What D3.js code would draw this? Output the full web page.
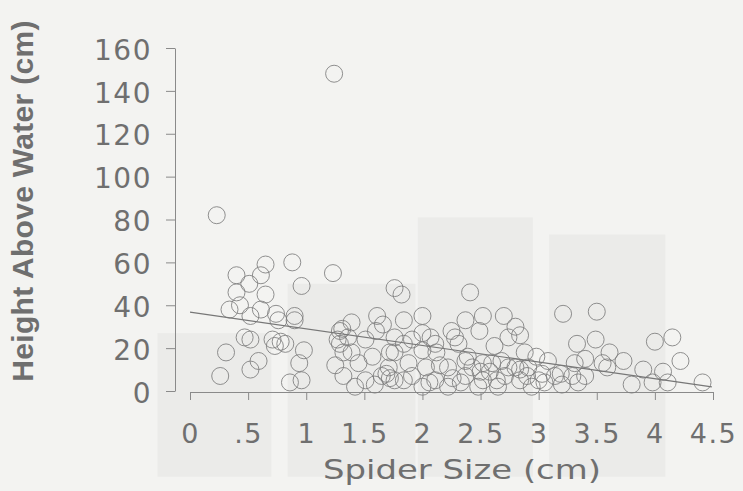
<!DOCTYPE html>
<html>
<head>
<meta charset="utf-8">
<script src="https://cdn.jsdelivr.net/npm/d3@7"></script>
<style>
  html, body { margin: 0; padding: 0; background: #f3f3f1; }
  svg { display: block; }
  text { font-family: "DejaVu Sans", Verdana, sans-serif; fill: #6f6f6f; }
</style>
</head>
<body>
<svg id="chart" width="743" height="491"></svg>
<script>
const width = 743,
height = 491;

// spider size (cm) and height above water (cm)
const sizeCm = [
  .23, .31, .26, .34, .40, .40, .43, .51, .52, .52, .52, .59, .61, .65, .65, .61,
  .74, .71, .78, .73, .88, .90, .90, .94, .86, .96, .98, .82, .47, .76,
  1.24, 1.23, .96, 1.25, 1.29, 1.29, 1.31, 1.32, 1.39, 1.39, 1.45, 1.51, 1.51, 1.57,
  1.61, 1.60, 1.66, 1.69, 1.72, 1.76, 1.82, 1.76, 1.76, 1.84, 1.84, 1.84, 1.88,
  1.91, 1.91, 1.42, 1.59, 1.36, 1.27, 1.65, 1.76, 1.71, 1.32, 1.72,
  2.0, 2.0, 2.0, 2.0, 2.03, 2.06, 2.11, 2.12, 2.11, 2.22, 2.22, 2.25, 2.28, 2.31,
  2.33, 2.37, 2.37, 2.37, 2.41, 2.39, 2.43, 2.48, 2.49, 2.52, 2.52, 2.52, 2.58,
  2.60, 2.62, 2.64, 2.65, 2.68, 2.70, 2.71, 2.74, 2.74, 2.80, 2.80, 2.84, 2.84,
  2.84, 2.88, 2.91, 2.94, 2.98, 3.0, 2.07, 2.15, 2.26, 2.5, 2.9,
  3.03, 3.05, 3.08, 3.14, 3.19, 3.20, 3.21, 3.29, 3.31, 3.33, 3.34, 3.40, 3.40,
  3.49, 3.50, 3.55, 3.59, 3.61, 3.73, 3.80, 3.90, 3.98, 4.0, 4.07, 4.11, 4.15,
  4.22, 4.41
];

const heightCm = [
  82, 18, 7, 38, 54, 46, 40, 50, 35, 24, 10, 14, 54, 59, 45, 38,
  36, 24, 23, 21, 60, 35, 33, 13, 4, 49, 19, 22, 25, 33,
  148, 55, 5, 12, 28, 22, 29, 7, 32, 18, 13, 24, 5, 16,
  35, 28, 31, 8, 18, 48, 45, 25, 5, 33, 22, 5, 13,
  24, 7, 2, 3, 25, 24, 7, 18, 11, 18, 6,
  35, 27, 19, 2, 11, 4, 22, 18, 5, 11, 2, 28, 25, 22,
  4, 33, 14, 7, 46, 16, 11, 2, 28, 35, 13, 5, 9,
  13, 21, 5, 2, 14, 35, 7, 25, 11, 30, 11, 26, 10,
  5, 18, 11, 2, 16, 5, 25, 12, 6, 9, 7,
  8, 4, 14, 7, 8, 3, 36, 7, 13, 22, 4, 15, 7,
  24, 37, 13, 11, 18, 14, 3, 10, 4, 23, 9, 4, 25,
  14, 4
];

// fitted regression line, end points
const fitSize = [0, 4.49],
fitHeight = [36.8, 1.9];

const xTicks = [0, .5, 1, 1.5, 2, 2.5, 3, 3.5, 4, 4.5],
yTicks = [0, 20, 40, 60, 80, 100, 120, 140, 160];

// faint bars showing through from the other side of the page
const ghostLeft = [-0.28, 0.84, 1.96, 3.09],
ghostRight = [0.7, 1.94, 2.95, 4.09],
ghostTop = [27, 50, 81, 73];

let x = d3.scaleLinear().domain([0, 4.5]).range([190, 713]);
let y = d3.scaleLinear().domain([0, 160]).range([391, 48]);

let svg = d3.select("#chart");

svg.append("rect")
  .attr("width", width)
  .attr("height", height)
  .attr("fill", "#f3f3f1");

svg.append("g")
  .selectAll("rect")
  .data(ghostTop)
  .join("rect")
  .attr("x", (d, i) => x(ghostLeft[i]))
  .attr("width", (d, i) => x(ghostRight[i]) - x(ghostLeft[i]))
  .attr("y", d => y(d))
  .attr("height", d => y(-40) - y(d))
  .attr("fill", "#ebebe9");

// y axis, ticks pointing left
let yAxis = svg.append("g")
  .attr("transform", "translate(175,0)")
  .call(d3.axisLeft(y).tickValues(yTicks).tickSize(9).tickSizeOuter(0).tickPadding(14));

yAxis.select(".domain").attr("stroke", "#8a8a8a");
yAxis.selectAll(".tick line").attr("stroke", "#8a8a8a");
yAxis.selectAll(".tick text")
  .attr("font-size", 28)
  .attr("letter-spacing", 1.5)
  .attr("fill", "#6f6f6f")
  .attr("dy", "0.4em");

// x axis, offset below the plot
let xAxis = svg.append("g")
  .attr("transform", "translate(0,392)")
  .call(d3.axisBottom(x).tickValues(xTicks).tickSize(8).tickSizeOuter(0).tickPadding(24)
    .tickFormat(d => d3.format("")(d).replace(/^0\./, ".")));

xAxis.select(".domain").attr("stroke", "#8a8a8a");
xAxis.selectAll(".tick line").attr("stroke", "#8a8a8a");
xAxis.selectAll(".tick text")
  .attr("font-size", 27)
  .attr("letter-spacing", 1.5)
  .attr("fill", "#6f6f6f");

// circles
svg.append("g")
  .selectAll("circle")
  .data(sizeCm)
  .join("circle")
  .attr("cx", d => x(d))
  .attr("cy", (d, i) => y(heightCm[i]))
  .attr("r", 8.5)
  .attr("fill", "none")
  .attr("stroke", "#7d7d7d")
  .attr("stroke-opacity", 0.85)
  .attr("stroke-width", 1);

let line = d3.line()
  .x(d => x(d))
  .y((d, i) => y(fitHeight[i]));

svg.append("path")
  .datum(fitSize)
  .attr("d", line)
  .attr("fill", "none")
  .attr("stroke", "#777")
  .attr("stroke-width", 1.2);

// axis titles
svg.append("text")
  .attr("x", 462)
  .attr("y", 479)
  .attr("text-anchor", "middle")
  .attr("font-size", 27)
  .attr("textLength", 278)
  .attr("lengthAdjust", "spacingAndGlyphs")
  .text("Spider Size (cm)");

svg.append("text")
  .attr("transform", "translate(33,201) rotate(-90)")
  .attr("text-anchor", "middle")
  .style("font-family", "'Liberation Sans', Arial, sans-serif")
  .attr("font-size", 30)
  .attr("font-weight", "bold")
  .attr("fill", "#828282")
  .attr("letter-spacing", 0.3)
  .text("Height Above Water (cm)");
</script>
</body>
</html>
